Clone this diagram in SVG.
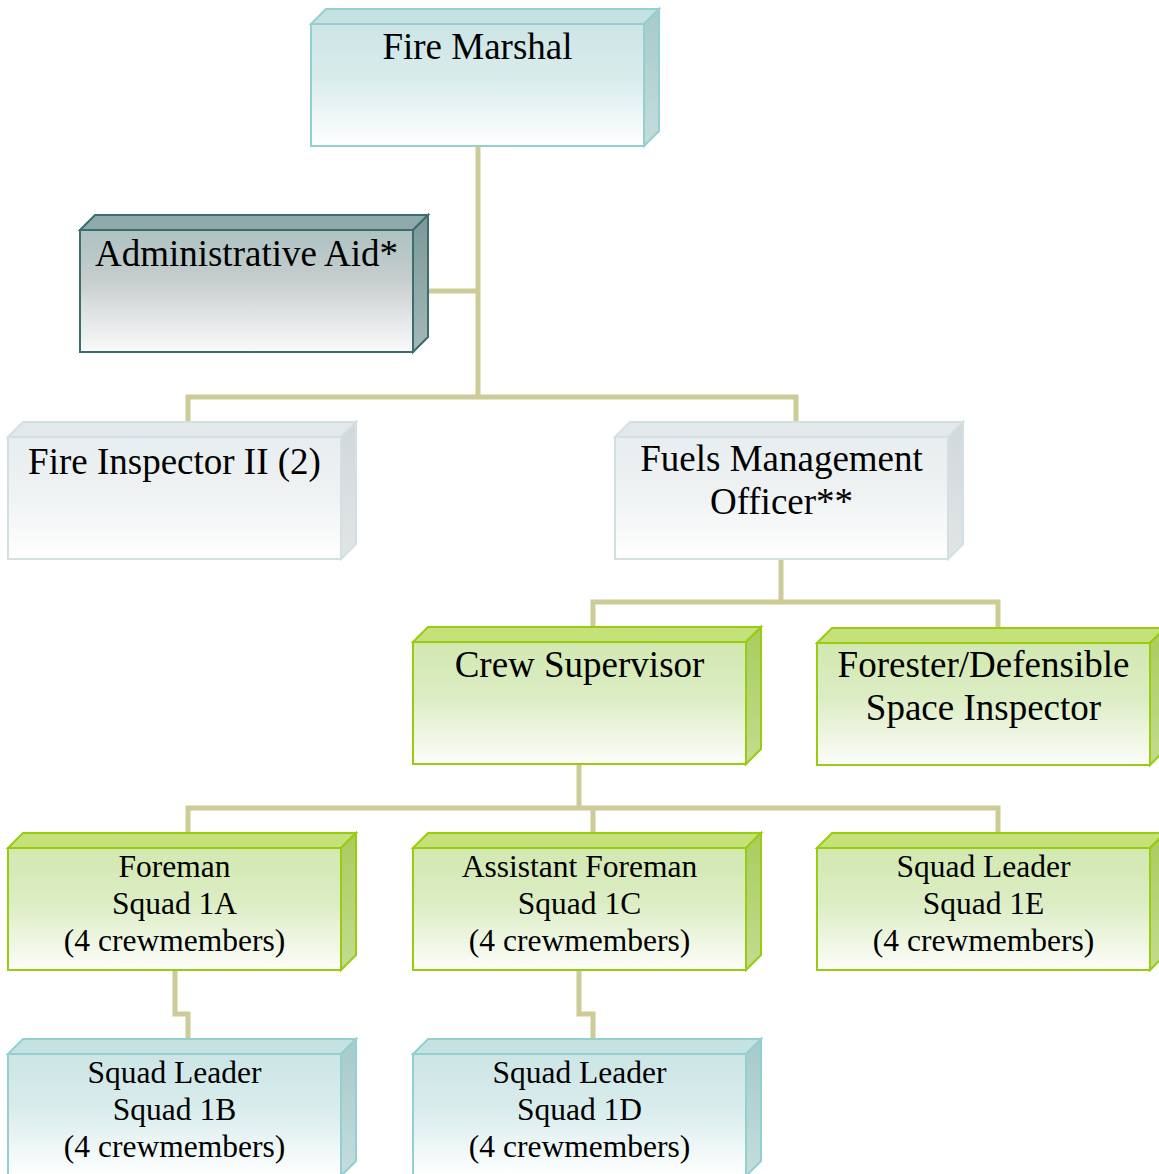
<svg xmlns="http://www.w3.org/2000/svg" width="1159" height="1174" viewBox="0 0 1159 1174">
<defs>
<linearGradient id="gTealF" x1="0" y1="0" x2="0" y2="1"><stop offset="0" stop-color="#cde5e5"/><stop offset="0.45" stop-color="#d9ecec"/><stop offset="1" stop-color="#ffffff"/></linearGradient>
<linearGradient id="gTealS" x1="0" y1="0" x2="0" y2="1"><stop offset="0" stop-color="#a6caca"/><stop offset="1" stop-color="#c4dddd"/></linearGradient>
<linearGradient id="gDarkF" x1="0" y1="0" x2="0" y2="1"><stop offset="0" stop-color="#adc2c2"/><stop offset="0.4" stop-color="#c6cdcd"/><stop offset="1" stop-color="#fafbfb"/></linearGradient>
<linearGradient id="gDarkS" x1="0" y1="0" x2="0" y2="1"><stop offset="0" stop-color="#7c9898"/><stop offset="1" stop-color="#a4b8b8"/></linearGradient>
<linearGradient id="gGrayF" x1="0" y1="0" x2="0" y2="1"><stop offset="0" stop-color="#e8edef"/><stop offset="0.45" stop-color="#eef2f3"/><stop offset="1" stop-color="#ffffff"/></linearGradient>
<linearGradient id="gGrayS" x1="0" y1="0" x2="0" y2="1"><stop offset="0" stop-color="#d0d8da"/><stop offset="1" stop-color="#e0e6e7"/></linearGradient>
<linearGradient id="gGreenF" x1="0" y1="0" x2="0" y2="1"><stop offset="0" stop-color="#d2e8b0"/><stop offset="0.45" stop-color="#dcedc4"/><stop offset="1" stop-color="#fcfdf9"/></linearGradient>
<linearGradient id="gGreenS" x1="0" y1="0" x2="0" y2="1"><stop offset="0" stop-color="#a9cc5e"/><stop offset="1" stop-color="#c3dc90"/></linearGradient>
</defs>
<style>
.conn{fill:none;stroke:#cdcc99;stroke-width:5;stroke-linejoin:miter}
.teal .f{fill:url(#gTealF)} .teal .t{fill:#c5e2e2} .teal .s{fill:url(#gTealS)} .teal .f,.teal .t,.teal .s{stroke:#96cfcf;stroke-width:2}
.dark .f{fill:url(#gDarkF)} .dark .t{fill:#8eaaaa} .dark .s{fill:url(#gDarkS)} .dark .f,.dark .t,.dark .s{stroke:#3d6d6d;stroke-width:2}
.gray .f{fill:url(#gGrayF)} .gray .t{fill:#e3e9ea} .gray .s{fill:url(#gGrayS)} .gray .f,.gray .t,.gray .s{stroke:#d3dfe1;stroke-width:2}
.green .f{fill:url(#gGreenF)} .green .t{fill:#c5e27a} .green .s{fill:url(#gGreenS)} .green .f,.green .t,.green .s{stroke:#99cc11;stroke-width:2}
text{font-family:"Liberation Serif","Times New Roman",serif;fill:#000;text-anchor:middle;stroke:none}
.big{font-size:37px}
.sm{font-size:31.5px}
</style>

<g id="connectors">
<path class="conn" d="M478 146V397"/>
<path class="conn" d="M412 291H478"/>
<path class="conn" d="M188 422V397H796V422"/>
<path class="conn" d="M781 558V602"/>
<path class="conn" d="M593 627V602H998V628"/>
<path class="conn" d="M579 764V808"/>
<path class="conn" d="M188 833V808H998V833"/>
<path class="conn" d="M593 808V833"/>
<path class="conn" d="M175 970V1014H188V1039"/>
<path class="conn" d="M579 970V1014H593V1039"/>
</g>

<g id="fire-marshal" class="teal">
<polygon class="t" points="311,24 326,9 659,9 644,24"/>
<polygon class="s" points="644,24 659,9 659,131 644,146"/>
<rect class="f" x="311" y="24" width="333" height="122"/>
<text class="big" x="477.5" y="59">Fire Marshal</text>
</g>

<g id="administrative-aid" class="dark">
<polygon class="t" points="80,230 95,215 428,215 413,230"/>
<polygon class="s" points="413,230 428,215 428,337 413,352"/>
<rect class="f" x="80" y="230" width="333" height="122"/>
<text class="big" x="246.5" y="266">Administrative Aid*</text>
</g>

<g id="fire-inspector" class="gray">
<polygon class="t" points="8,437 23,422 356,422 341,437"/>
<polygon class="s" points="341,437 356,422 356,544 341,559"/>
<rect class="f" x="8" y="437" width="333" height="122"/>
<text class="big" x="174.5" y="474">Fire Inspector II (2)</text>
</g>

<g id="fuels-management-officer" class="gray">
<polygon class="t" points="615,437 630,422 963,422 948,437"/>
<polygon class="s" points="948,437 963,422 963,544 948,559"/>
<rect class="f" x="615" y="437" width="333" height="122"/>
<text class="big" x="781.5" y="471">Fuels Management</text>
<text class="big" x="781.5" y="514">Officer**</text>
</g>

<g id="crew-supervisor" class="green">
<polygon class="t" points="413,642 428,627 761,627 746,642"/>
<polygon class="s" points="746,642 761,627 761,749 746,764"/>
<rect class="f" x="413" y="642" width="333" height="122"/>
<text class="big" x="579.5" y="677">Crew Supervisor</text>
</g>

<g id="forester" class="green">
<polygon class="t" points="817,643 832,628 1165,628 1150,643"/>
<polygon class="s" points="1150,643 1165,628 1165,750 1150,765"/>
<rect class="f" x="817" y="643" width="333" height="122"/>
<text class="big" x="983.5" y="677">Forester/Defensible</text>
<text class="big" x="983.5" y="720">Space Inspector</text>
</g>

<g id="foreman-1a" class="green">
<polygon class="t" points="8,848 23,833 356,833 341,848"/>
<polygon class="s" points="341,848 356,833 356,955 341,970"/>
<rect class="f" x="8" y="848" width="333" height="122"/>
<text class="sm" x="174.5" y="877">Foreman</text>
<text class="sm" x="174.5" y="914">Squad 1A</text>
<text class="sm" x="174.5" y="951">(4 crewmembers)</text>
</g>

<g id="assistant-foreman-1c" class="green">
<polygon class="t" points="413,848 428,833 761,833 746,848"/>
<polygon class="s" points="746,848 761,833 761,955 746,970"/>
<rect class="f" x="413" y="848" width="333" height="122"/>
<text class="sm" x="579.5" y="877">Assistant Foreman</text>
<text class="sm" x="579.5" y="914">Squad 1C</text>
<text class="sm" x="579.5" y="951">(4 crewmembers)</text>
</g>

<g id="squad-leader-1e" class="green">
<polygon class="t" points="817,848 832,833 1165,833 1150,848"/>
<polygon class="s" points="1150,848 1165,833 1165,955 1150,970"/>
<rect class="f" x="817" y="848" width="333" height="122"/>
<text class="sm" x="983.5" y="877">Squad Leader</text>
<text class="sm" x="983.5" y="914">Squad 1E</text>
<text class="sm" x="983.5" y="951">(4 crewmembers)</text>
</g>

<g id="squad-leader-1b" class="teal">
<polygon class="t" points="8,1054 23,1039 356,1039 341,1054"/>
<polygon class="s" points="341,1054 356,1039 356,1161 341,1176"/>
<rect class="f" x="8" y="1054" width="333" height="122"/>
<text class="sm" x="174.5" y="1083">Squad Leader</text>
<text class="sm" x="174.5" y="1120">Squad 1B</text>
<text class="sm" x="174.5" y="1157">(4 crewmembers)</text>
</g>

<g id="squad-leader-1d" class="teal">
<polygon class="t" points="413,1054 428,1039 761,1039 746,1054"/>
<polygon class="s" points="746,1054 761,1039 761,1161 746,1176"/>
<rect class="f" x="413" y="1054" width="333" height="122"/>
<text class="sm" x="579.5" y="1083">Squad Leader</text>
<text class="sm" x="579.5" y="1120">Squad 1D</text>
<text class="sm" x="579.5" y="1157">(4 crewmembers)</text>
</g>
</svg>
